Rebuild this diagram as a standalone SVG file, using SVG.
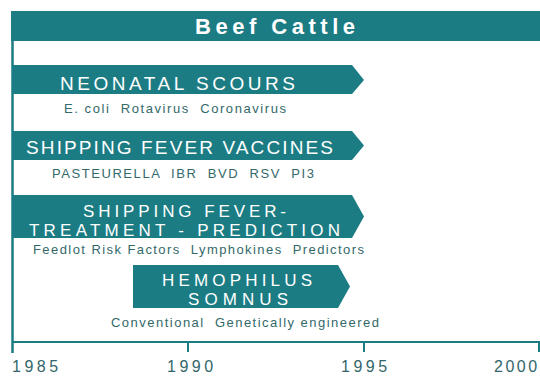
<svg xmlns="http://www.w3.org/2000/svg" width="540" height="376" viewBox="0 0 540 376">
<style>
.bar{fill:#1c7c84}
.bt{fill:#ffffff;font-family:"Liberation Sans",Arial,sans-serif;font-size:19px}
.b2{fill:#ffffff;font-family:"Liberation Sans",Arial,sans-serif;font-size:17px}
.st{fill:#33696a;font-family:"Liberation Sans",Arial,sans-serif;font-size:13px}
.yr{fill:#33666a;font-family:"Liberation Sans",Arial,sans-serif;font-size:16px;letter-spacing:3.5px}
.ln{stroke:#1c7c84;fill:none}
</style>
<rect width="540" height="376" fill="#ffffff"/>
<g id="header">
<rect class="bar" x="11" y="11" width="529" height="30"/>
<text x="275" y="34" text-anchor="middle" fill="#ffffff" font-family="Liberation Sans, Arial, sans-serif" font-size="22" font-weight="bold" textLength="160" lengthAdjust="spacing">Beef Cattle</text>
</g>
<g id="frame">
<line class="ln" x1="12.5" y1="40" x2="12.5" y2="353" stroke-width="2.5"/>
<line class="ln" x1="12" y1="342" x2="540" y2="342" stroke-width="2"/>
<line class="ln" x1="188" y1="341" x2="188" y2="352" stroke-width="2"/>
<line class="ln" x1="364" y1="341" x2="364" y2="352" stroke-width="2"/>
<line class="ln" x1="539" y1="341" x2="539" y2="352" stroke-width="2"/>
</g>
<g id="years">
<text class="yr" x="12" y="372">1985</text>
<text class="yr" x="167" y="372">1990</text>
<text class="yr" x="341" y="372">1995</text>
<text class="yr" x="494" y="372" style="letter-spacing:2.5px">2000</text>
</g>
<g id="neonatal-scours">
<polygon class="bar" points="12,65 352,65 364,80 352,94 12,94"/>
<text class="bt" x="60" y="90" textLength="235" lengthAdjust="spacing">NEONATAL SCOURS</text>
<text class="st" x="64" y="113" xml:space="preserve" textLength="222" lengthAdjust="spacing">E. coli  Rotavirus  Coronavirus</text>
</g>
<g id="shipping-fever-vaccines">
<polygon class="bar" points="12,131 352,131 364,145.5 352,160 12,160"/>
<text class="bt" x="26" y="154" textLength="307" lengthAdjust="spacing">SHIPPING FEVER VACCINES</text>
<text class="st" x="52" y="178" xml:space="preserve" textLength="262" lengthAdjust="spacing">PASTEURELLA  IBR  BVD  RSV  PI3</text>
</g>
<g id="shipping-fever-treatment">
<polygon class="bar" points="12,195 352,195 364,216.5 352,238 12,238"/>
<text class="b2" x="83" y="216.5" textLength="203" lengthAdjust="spacing">SHIPPING FEVER-</text>
<text class="b2" x="29" y="235.5" textLength="311" lengthAdjust="spacing">TREATMENT - PREDICTION</text>
<text class="st" x="33" y="254" xml:space="preserve" textLength="331" lengthAdjust="spacing">Feedlot Risk Factors  Lymphokines  Predictors</text>
</g>
<g id="hemophilus-somnus">
<polygon class="bar" points="133,265 338,265 350,286.5 338,308 133,308"/>
<text class="b2" x="162" y="286" textLength="150" lengthAdjust="spacing">HEMOPHILUS</text>
<text class="b2" x="188" y="305" textLength="100" lengthAdjust="spacing">SOMNUS</text>
<text class="st" x="111" y="327" xml:space="preserve" textLength="268" lengthAdjust="spacing">Conventional  Genetically engineered</text>
</g>
</svg>
